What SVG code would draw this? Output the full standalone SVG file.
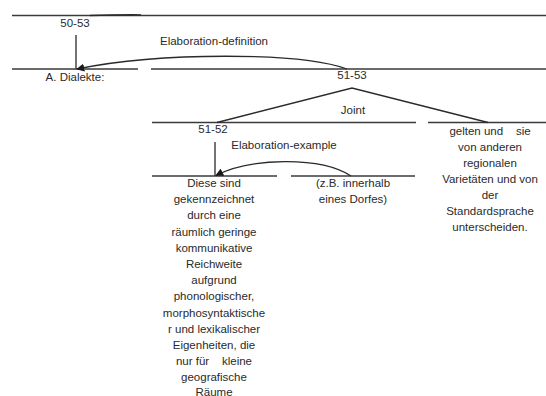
<svg xmlns="http://www.w3.org/2000/svg" width="546" height="396" viewBox="0 0 546 396">
<defs>
<style>
text{font-family:"Liberation Sans",Arial,sans-serif;font-size:11.5px;fill:#2a2a2a;text-anchor:middle;white-space:pre}
.ln{stroke:#3a3a3a;stroke-width:1.4;fill:none}
.rel{stroke:#2a2a2a;stroke-width:1.3;fill:none}
</style>
<marker id="ah" viewBox="0 0 10 10" refX="9" refY="5" markerWidth="8" markerHeight="8" markerUnits="userSpaceOnUse" orient="auto">
<path d="M0,0 L10,5 L0,10 z" fill="#1a1a1a"/>
</marker>
</defs>
<rect width="546" height="396" fill="#fff"/>
<g id="n50-53">
<line class="ln" x1="12" y1="15.5" x2="546" y2="15.5"/>
<text x="75" y="27">50-53</text>
<line class="ln" x1="76" y1="35" x2="76" y2="69"/>
</g>
<g id="nDialekte">
<line class="ln" x1="12" y1="69" x2="138" y2="69"/>
<text x="75" y="81">A. Dialekte:</text>
</g>
<g id="n51-53">
<line class="ln" x1="151" y1="69" x2="546" y2="69"/>
<text x="352" y="79">51-53</text>
</g>
<g id="n51-52">
<line class="ln" x1="152" y1="122.5" x2="416" y2="122.5"/>
<text x="213" y="133">51-52</text>
<line class="ln" x1="215" y1="142" x2="215" y2="176"/>
</g>
<g id="nGelten">
<line class="ln" x1="428" y1="122.5" x2="546" y2="122.5"/>
<text x="490" y="135">gelten und    sie</text>
<text x="490" y="151">von anderen</text>
<text x="490" y="167">regionalen</text>
<text x="490" y="183">Varietäten und von</text>
<text x="490" y="199">der</text>
<text x="490" y="215">Standardsprache</text>
<text x="490" y="231">unterscheiden.</text>
</g>
<g id="nDiese">
<line class="ln" x1="152" y1="176" x2="277" y2="176"/>
<text x="214" y="187">Diese sind</text>
<text x="214" y="203.2">gekennzeichnet</text>
<text x="214" y="219.4">durch eine</text>
<text x="214" y="235.6">räumlich geringe</text>
<text x="214" y="251.8">kommunikative</text>
<text x="214" y="268">Reichweite</text>
<text x="214" y="284.2">aufgrund</text>
<text x="214" y="300.4">phonologischer,</text>
<text x="214" y="316.6">morphosyntaktische</text>
<text x="214" y="332.8">r und lexikalischer</text>
<text x="214" y="349">Eigenheiten, die</text>
<text x="214" y="365.2">nur für    kleine</text>
<text x="214" y="381.4">geografische</text>
<text x="214" y="395.5">Räume</text>
</g>
<g id="nBeispiel">
<line class="ln" x1="291" y1="176" x2="415" y2="176"/>
<text x="353" y="187">(z.B. innerhalb</text>
<text x="353" y="203.2">eines Dorfes)</text>
</g>
<g id="connectors">
<path class="rel" d="M141,14.8 Q116,14.6 90,15.5" stroke-width="1.6"/>
<path class="rel" d="M347,69 C300,52 160,52 77,69" marker-end="url(#ah)"/>
<text x="214" y="45">Elaboration-definition</text>
<polyline class="rel" points="217,122.5 352,88 488,122.5"/>
<text x="353" y="114">Joint</text>
<path class="rel" d="M351,176 C320,156 250,158 216,175.5" marker-end="url(#ah)"/>
<text x="284" y="149">Elaboration-example</text>
</g>
</svg>
